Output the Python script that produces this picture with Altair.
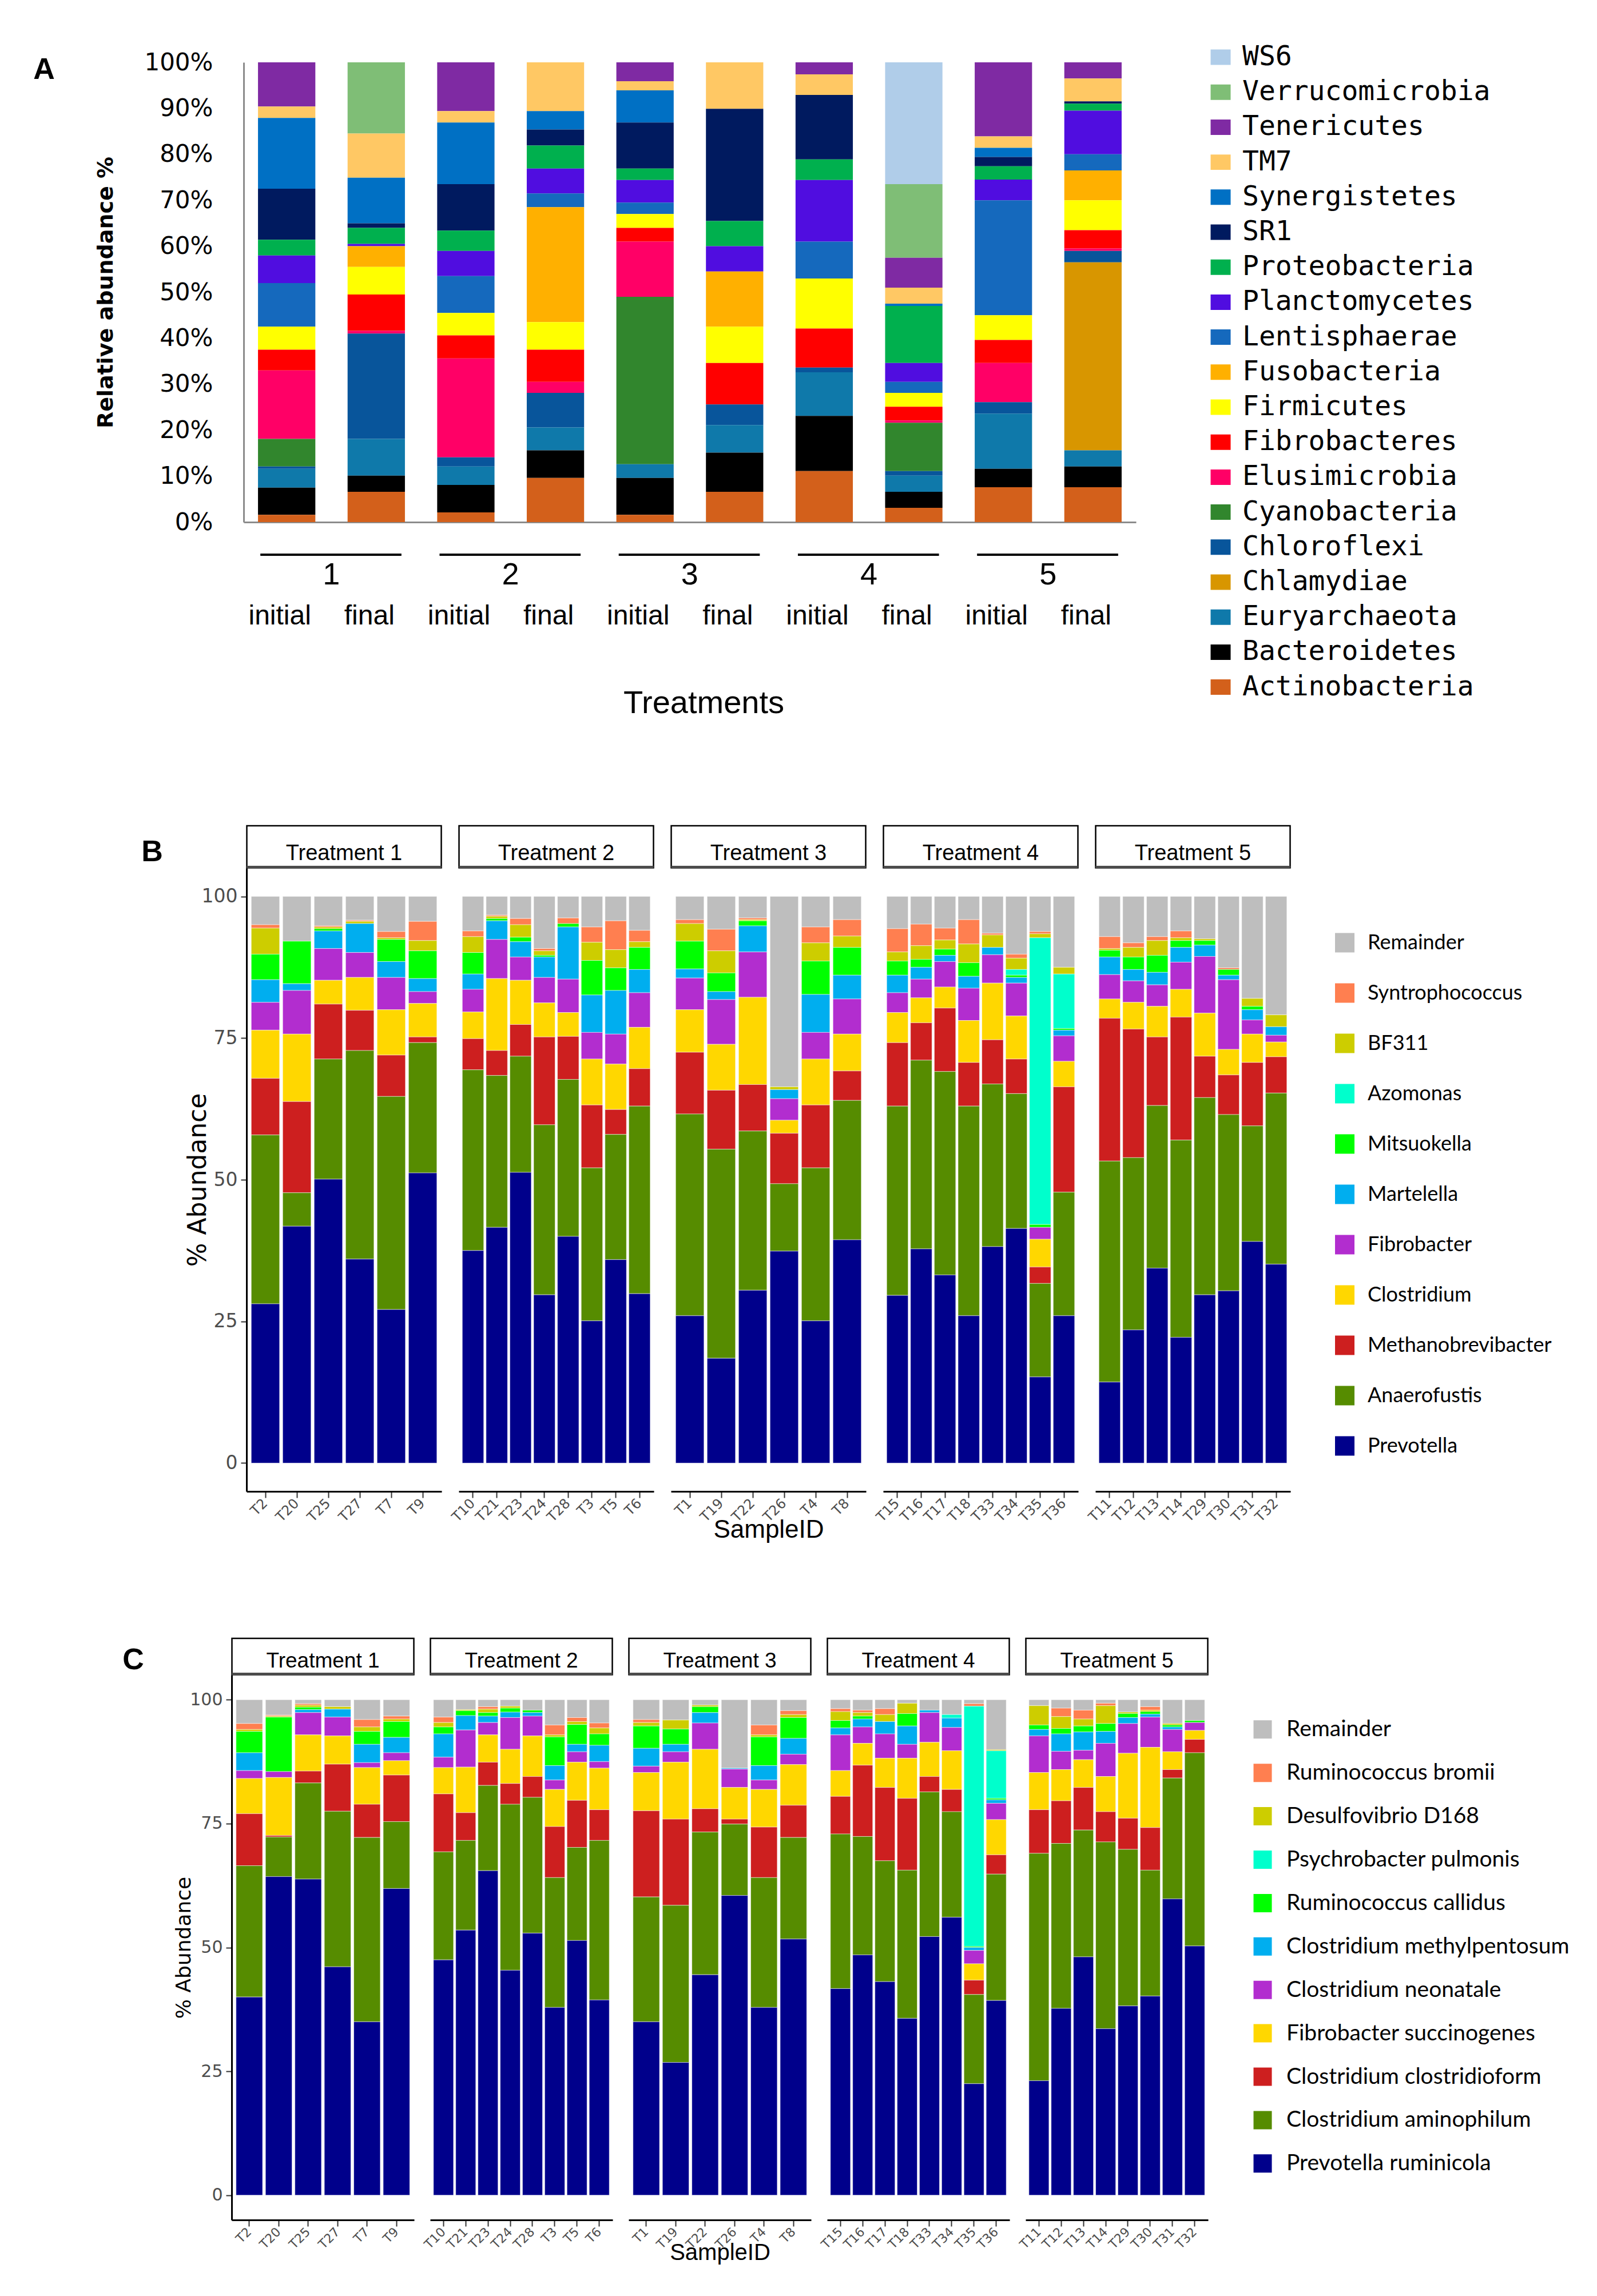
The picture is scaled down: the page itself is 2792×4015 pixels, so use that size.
import altair as alt
import pandas as pd

FONT = "Liberation Sans"

# ======================= Panel A data =======================
A_bars = ["1_initial", "1_final", "2_initial", "2_final", "3_initial", "3_final",
          "4_initial", "4_final", "5_initial", "5_final"]
A_treatments = ["1", "2", "3", "4", "5"]
A_phyla = ["WS6", "Verrucomicrobia", "Tenericutes", "TM7", "Synergistetes", "SR1",
           "Proteobacteria", "Planctomycetes", "Lentisphaerae", "Fusobacteria",
           "Firmicutes", "Fibrobacteres", "Elusimicrobia", "Cyanobacteria",
           "Chloroflexi", "Chlamydiae", "Euryarchaeota", "Bacteroidetes", "Actinobacteria"]
A_colors = ["#B0CDE9", "#7FBE76", "#7F2AA3", "#FFC864", "#0070C4", "#001A5F",
            "#00B04E", "#500DE0", "#1569BD", "#FFB000", "#FFFF00", "#FF0000",
            "#FF0066", "#31862D", "#08559B", "#D89600", "#0F79AA", "#000000", "#D3601B"]

WS6 = [0, 0, 0, 0, 0, 0, 0, 26.5, 0, 0]
Verrucomicrobia = [0, 15.5, 0, 0, 0, 0, 0, 16.0, 0, 0]
Tenericutes = [9.6, 0, 10.6, 0, 4.1, 0, 2.6, 6.5, 16.1, 3.5]
TM7 = [2.5, 9.6, 2.5, 10.6, 2.0, 10.1, 4.5, 3.5, 2.5, 5.0]
Synergistetes = [15.4, 9.9, 13.4, 4.0, 7.0, 0, 0, 0.5, 2.0, 0]
SR1 = [11.1, 1.0, 10.1, 3.5, 10.0, 24.4, 14.0, 0, 2.0, 0.5]
Proteobacteria = [3.4, 3.5, 4.4, 5.0, 2.5, 5.5, 4.5, 12.4, 2.9, 1.5]
Planctomycetes = [6.0, 0.5, 5.5, 5.4, 4.9, 5.5, 13.4, 4.1, 4.5, 9.5]
Lentisphaerae = [9.5, 0, 8.0, 3.0, 2.5, 0, 8.0, 2.4, 25.0, 3.5]
Fusobacteria = [0, 4.5, 0, 25.0, 0, 12.0, 0, 0, 0, 6.5]
Firmicutes = [5.0, 6.0, 4.9, 6.0, 3.0, 7.9, 10.9, 3.0, 5.4, 6.5]
Fibrobacteres = [4.5, 7.9, 5.0, 7.0, 3.0, 9.0, 8.5, 3.0, 5.0, 4.0]
Elusimicrobia = [14.9, 0.6, 21.5, 2.4, 12.0, 0, 0, 0.5, 8.5, 0.5]
Cyanobacteria = [6.0, 0, 0, 0, 36.4, 0, 0, 10.5, 0, 0]
Chloroflexi = [0.5, 22.9, 2.0, 7.5, 0, 4.5, 1.0, 1.0, 2.5, 2.5]
Chlamydiae = [0, 0, 0, 0, 0, 0, 0, 0, 0, 40.9]
Euryarchaeota = [4.1, 8.0, 4.0, 5.0, 3.0, 6.0, 9.5, 3.5, 12.0, 3.5]
Bacteroidetes = [5.9, 3.5, 6.0, 6.0, 8.0, 8.5, 12.0, 3.5, 4.0, 4.5]
Actinobacteria = [1.6, 6.6, 2.1, 9.6, 1.6, 6.6, 11.1, 3.1, 7.6, 7.6]

A_series = [WS6, Verrucomicrobia, Tenericutes, TM7, Synergistetes, SR1, Proteobacteria,
            Planctomycetes, Lentisphaerae, Fusobacteria, Firmicutes, Fibrobacteres,
            Elusimicrobia, Cyanobacteria, Chloroflexi, Chlamydiae, Euryarchaeota,
            Bacteroidetes, Actinobacteria]

# ======================= Panels B / C shared =======================
groups = ["Treatment 1", "Treatment 2", "Treatment 3", "Treatment 4", "Treatment 5"]
samples_t1 = ["T2", "T20", "T25", "T27", "T7", "T9"]
samples_t2 = ["T10", "T21", "T23", "T24", "T28", "T3", "T5", "T6"]
samples_t3 = ["T1", "T19", "T22", "T26", "T4", "T8"]
samples_t4 = ["T15", "T16", "T17", "T18", "T33", "T34", "T35", "T36"]
samples_t5 = ["T11", "T12", "T13", "T14", "T29", "T30", "T31", "T32"]
group_samples = [samples_t1, samples_t2, samples_t3, samples_t4, samples_t5]
BC_colors = ["#BEBEBE", "#FF7F50", "#CDCD00", "#00FFCC", "#00FF00", "#00AEEF",
             "#B22DCF", "#FFD700", "#CD1F1F", "#568C00", "#00008B"]

# ======================= Panel B data (genus) =======================
B_genera = ["Remainder", "Syntrophococcus", "BF311", "Azomonas", "Mitsuokella",
            "Martelella", "Fibrobacter", "Clostridium", "Methanobrevibacter",
            "Anaerofustis", "Prevotella"]
B_remainder = [5.0, 7.9, 5.2, 4.2, 6.2, 4.4,
               6.1, 3.3, 3.9, 9.2, 3.8, 5.4, 4.3, 6.0,
               4.1, 5.8, 3.8, 33.6, 5.4, 4.1,
               5.7, 4.9, 5.6, 4.1, 6.5, 10.2, 6.2, 12.5,
               7.1, 8.2, 7.1, 6.1, 7.5, 12.6, 18.0, 20.9]
B_syntrophococcus = [0.6, 0, 0.2, 0.2, 1.1, 3.4,
                     1.0, 0.2, 1.1, 0.4, 1.0, 2.7, 5.1, 2.0,
                     0.7, 3.8, 0.3, 0, 2.8, 2.9,
                     4.1, 3.8, 2.1, 4.3, 0.3, 0.7, 0.4, 0,
                     2.1, 0.8, 0.7, 1.2, 0, 0.3, 0, 0]
B_bf311 = [4.6, 0, 0.3, 0.4, 0.3, 1.8,
           2.8, 0.4, 2.2, 0.8, 0, 3.2, 3.2, 1.0,
           3.1, 3.9, 0.2, 0.5, 3.2, 2.0,
           1.6, 2.4, 1.6, 3.3, 2.2, 2.0, 0.7, 1.2,
           0.3, 1.7, 2.6, 0.5, 0.3, 0, 1.4, 2.1]
B_azomonas = [0, 0, 0, 0, 0, 0,
              0, 0, 0, 0, 0, 0, 0, 0,
              0, 0, 0, 0, 0, 0,
              0, 0, 0, 0, 0, 1.0, 50.6, 9.6,
              0, 0, 0, 0, 0, 0, 0, 0]
B_mitsuokella = [4.5, 7.5, 0.4, 0, 3.9, 4.9,
                 3.8, 0.4, 0.8, 0.3, 0.6, 6.1, 4.0, 3.9,
                 4.9, 3.3, 0.9, 0, 5.9, 4.9,
                 2.5, 1.4, 1.1, 2.4, 0, 0.4, 0.5, 0.3,
                 1.2, 2.2, 3.0, 1.2, 0.8, 1.0, 0.6, 0]
B_martelella = [4.0, 1.2, 3.1, 5.1, 2.8, 2.3,
                2.7, 3.3, 2.7, 3.6, 9.2, 6.6, 7.7, 4.1,
                1.6, 1.4, 4.6, 1.6, 6.7, 4.2,
                3.1, 2.1, 1.1, 2.1, 1.3, 1.0, 0, 1.0,
                3.1, 2.0, 2.2, 2.6, 2.0, 0.8, 1.8, 1.5]
B_fibrobacter = [4.9, 7.7, 5.6, 4.4, 5.7, 2.1,
                 4.0, 6.9, 4.1, 4.5, 5.9, 4.7, 5.3, 6.1,
                 5.6, 7.9, 8.0, 3.8, 4.7, 6.2,
                 3.5, 3.3, 4.5, 5.7, 5.0, 5.8, 2.1, 4.5,
                 4.3, 3.8, 3.8, 4.8, 10.0, 12.3, 2.5, 1.2]
B_clostridium = [8.5, 11.9, 4.2, 5.8, 8.0, 5.9,
                 4.7, 12.7, 7.8, 6.0, 4.2, 8.1, 8.0, 7.3,
                 7.5, 8.1, 15.4, 2.3, 8.1, 6.5,
                 5.3, 4.4, 3.7, 7.4, 10.0, 7.6, 4.9, 4.5,
                 3.4, 4.7, 5.4, 4.9, 7.6, 4.5, 5.0, 2.6]
B_methanobrevibacter = [10.0, 16.1, 9.7, 7.1, 7.3, 1.0,
                        5.5, 4.4, 5.6, 15.5, 7.6, 11.1, 4.4, 6.6,
                        10.9, 10.4, 8.2, 8.9, 11.1, 5.2,
                        11.2, 6.6, 11.2, 7.7, 7.8, 6.1, 2.9, 18.6,
                        25.2, 22.7, 12.1, 21.7, 7.3, 7.0, 11.2, 6.4]
B_anaerofustis = [29.8, 5.9, 21.2, 36.8, 37.6, 23.0,
                  31.9, 26.8, 20.5, 30.0, 27.7, 27.0, 22.1, 33.1,
                  35.6, 36.9, 28.1, 11.9, 27.0, 24.6,
                  33.4, 33.3, 35.9, 37.0, 28.7, 23.8, 16.5, 21.8,
                  39.0, 30.4, 28.7, 34.8, 34.8, 31.1, 20.4, 30.2]
B_prevotella = [28.1, 41.8, 50.1, 36.0, 27.1, 51.2,
                37.5, 41.6, 51.3, 29.7, 40.0, 25.1, 35.9, 29.9,
                26.0, 18.5, 30.5, 37.4, 25.1, 39.4,
                29.6, 37.8, 33.2, 26.0, 38.2, 41.4, 15.2, 26.0,
                14.3, 23.5, 34.4, 22.2, 29.7, 30.4, 39.1, 35.1]
B_series = [B_remainder, B_syntrophococcus, B_bf311, B_azomonas, B_mitsuokella,
            B_martelella, B_fibrobacter, B_clostridium, B_methanobrevibacter,
            B_anaerofustis, B_prevotella]

# ======================= Panel C data (species) =======================
C_species = ["Remainder", "Ruminococcus bromii", "Desulfovibrio D168",
             "Psychrobacter pulmonis", "Ruminococcus callidus",
             "Clostridium methylpentosum", "Clostridium neonatale",
             "Fibrobacter succinogenes", "Clostridium clostridioform",
             "Clostridium aminophilum", "Prevotella ruminicola"]
C_remainder = [4.8, 3.1, 0.8, 1.4, 4.0, 3.3,
               3.5, 2.0, 1.4, 1.3, 2.1, 5.1, 3.6, 4.7,
               4.0, 4.1, 1.1, 13.8, 5.1, 2.2,
               1.8, 2.1, 1.8, 0.7, 2.1, 3.0, 0.8, 10.1,
               1.2, 1.7, 2.1, 0.7, 2.5, 1.4, 4.8, 4.2]
C_r_bromii = [1.2, 0.2, 0.3, 0, 1.5, 0.6,
              1.1, 0, 0.5, 0, 0, 2.0, 0.8, 1.0,
              0.6, 0, 0, 0, 2.0, 0.8,
              0.6, 0.5, 1.2, 0, 0, 0, 0.5, 0,
              0, 1.7, 1.8, 0.5, 0, 0.7, 0, 0]
C_desulfovibrio = [0.4, 0.2, 0.4, 0.5, 0.9, 0.5,
                   0.9, 0.2, 0.7, 0.4, 0, 0.4, 0.6, 1.2,
                   0.7, 1.8, 0.3, 0, 0.4, 0.6,
                   1.8, 0.7, 1.4, 2.1, 0, 0, 0, 0.2,
                   3.9, 2.4, 1.4, 3.6, 0.3, 0.3, 0.3, 0]
C_psychrobacter = [0, 0, 0, 0, 0, 0,
                   0, 0, 0, 0, 0, 0, 0, 0,
                   0, 0, 0, 0, 0, 0,
                   0, 0, 0, 0, 0, 0.7, 48.5, 9.6,
                   0, 0, 0, 0, 0, 0, 0, 0]
C_r_callidus = [4.3, 11.0, 0.5, 0, 2.6, 3.2,
                1.4, 1.0, 0.7, 0.8, 0.5, 5.8, 4.0, 2.3,
                4.5, 3.1, 1.2, 0, 5.8, 4.2,
                1.5, 0.6, 0, 2.5, 0, 0, 0.2, 0.3,
                0.9, 1.1, 1.2, 1.6, 0.8, 0.5, 0.4, 0.4]
C_c_methylpentosum = [3.6, 0, 0.6, 1.6, 3.7, 3.1,
                      4.7, 2.9, 1.3, 1.1, 0.7, 2.9, 1.5, 3.3,
                      3.6, 1.5, 2.1, 0.2, 2.9, 3.2,
                      1.4, 1.6, 2.5, 3.7, 0.5, 1.9, 0.6, 0.7,
                      1.3, 3.5, 3.7, 2.4, 1.2, 0.6, 0.5, 0]
C_c_neonatale = [1.6, 1.2, 4.5, 3.8, 1.0, 1.6,
                 2.1, 7.5, 2.5, 6.4, 4.0, 1.9, 2.1, 1.3,
                 1.3, 2.1, 5.3, 3.7, 1.9, 2.1,
                 7.2, 3.3, 4.9, 2.8, 6.0, 4.7, 2.7, 3.3,
                 7.4, 3.7, 1.9, 6.7, 6.0, 6.1, 4.5, 1.6]
C_f_succinogenes = [7.1, 11.7, 7.3, 5.7, 7.4, 2.9,
                    5.3, 9.2, 5.5, 6.9, 8.2, 7.5, 7.7, 8.4,
                    7.7, 11.5, 12.0, 6.4, 7.6, 8.2,
                    5.2, 4.4, 5.9, 8.1, 6.9, 7.8, 3.3, 7.1,
                    7.5, 6.3, 5.6, 7.1, 13.1, 16.2, 3.6, 1.8]
C_c_clostridioform = [10.5, 0.3, 2.4, 9.5, 6.7, 9.4,
                      11.7, 5.6, 4.7, 4.2, 4.2, 10.3, 9.5, 6.2,
                      17.4, 17.4, 4.7, 1.0, 10.2, 6.5,
                      7.6, 14.4, 14.8, 14.5, 3.1, 4.5, 2.9, 3.9,
                      8.8, 8.6, 8.6, 6.1, 6.3, 8.6, 1.7, 2.7]
C_c_aminophilum = [26.5, 8.0, 19.4, 31.4, 37.2, 13.5,
                   21.8, 18.1, 17.2, 33.5, 27.4, 26.2, 18.8, 32.2,
                   25.2, 31.7, 28.8, 14.4, 26.2, 20.5,
                   31.2, 23.9, 24.4, 29.9, 29.2, 21.3, 18.0, 25.5,
                   45.9, 33.3, 25.6, 37.7, 31.6, 25.4, 24.4, 39.0]
C_p_ruminicola = [40.0, 64.3, 63.8, 46.1, 35.0, 61.9,
                  47.5, 53.5, 65.5, 45.4, 52.9, 37.9, 51.4, 39.4,
                  35.0, 26.8, 44.5, 60.5, 37.9, 51.7,
                  41.7, 48.5, 43.1, 35.7, 52.2, 56.1, 22.5, 39.3,
                  23.1, 37.7, 48.1, 33.6, 38.2, 40.2, 59.8, 50.3]
C_series = [C_remainder, C_r_bromii, C_desulfovibrio, C_psychrobacter, C_r_callidus,
            C_c_methylpentosum, C_c_neonatale, C_f_succinogenes, C_c_clostridioform,
            C_c_aminophilum, C_p_ruminicola]

K = 300  # common row origin offset used to place each row's plot area


def spacer(w):
    return alt.Chart(pd.DataFrame({"s": [0]})).mark_rule(strokeOpacity=0).encode(
        x=alt.value(1), y=alt.value(1), y2=alt.value(2)).properties(width=w, height=1)


# ======================= Panel A chart =======================
rows = []
for k, (name, vals) in enumerate(zip(A_phyla, A_series)):
    for bar, v in zip(A_bars, vals):
        rows.append({"sample": bar, "taxon": name, "value": v, "stack": len(A_phyla) - 1 - k})
dfA = pd.DataFrame(rows)
dfA_stage = pd.DataFrame({"sample": A_bars, "stage": [b.split("_")[1] for b in A_bars]})
dfA_groups = pd.DataFrame({"sample": [b for b in A_bars if b.endswith("initial")],
                           "sample_end": [b for b in A_bars if b.endswith("final")],
                           "grp": A_treatments})

A_LEFT = 426
A_W, A_H = 1560, 804
barsA = alt.Chart(dfA).transform_filter("datum.value > 0").mark_bar().encode(
    x=alt.X("sample:N",
            scale=alt.Scale(domain=A_bars, paddingInner=0.36, paddingOuter=0.16),
            axis=alt.Axis(labels=False, ticks=False, domainColor="#8c8c8c", domainWidth=3,
                          title="Treatments", titleFont=FONT, titleFontSize=56,
                          titleFontWeight="normal", titleColor="black",
                          titleX=804, titleY=316, titleBaseline="middle")),
    y=alt.Y("value:Q", stack="zero", scale=alt.Scale(domain=[0, 100], nice=False),
            axis=alt.Axis(values=list(range(0, 101, 10)), labelExpr="datum.value + '%'",
                          labelFont="DejaVu Sans", labelFontSize=42, labelColor="black",
                          labelPadding=54, labelFlush=False, labelOverlap=False,
                          ticks=False, grid=False, domainColor="#8c8c8c", domainWidth=3,
                          title="Relative abundance %", titleFont="DejaVu Sans",
                          titleFontSize=38, titleFontWeight="bold", titleColor="black",
                          titlePadding=47)),
    color=alt.Color("taxon:N", scale=alt.Scale(domain=A_phyla, range=A_colors),
                    legend=alt.Legend(orient="none", legendX=1684, legendY=-33,
                                      direction="vertical", title=None, padding=0,
                                      symbolType="M-1,-0.77L1,-0.77L1,0.77L-1,0.77Z",
                                      symbolSize=1225, symbolStrokeWidth=0,
                                      labelFont="DejaVu Sans Mono, monospace",
                                      labelFontSize=48, labelColor="black",
                                      labelOffset=14, labelLimit=2000, rowPadding=13.2)),
    order=alt.Order("stack:Q", sort="ascending"),
)
rulesA = alt.Chart(dfA_groups).mark_rule(color="black", strokeWidth=4,
                                         xOffset=-46, x2Offset=44).encode(
    x=alt.X("sample:N"), x2=alt.X2("sample_end"), y=alt.value(861))
numsA = alt.Chart(dfA_groups).mark_text(font=FONT, fontSize=54, dx=78,
                                        baseline="middle", color="black").encode(
    x=alt.X("sample:N"), y=alt.value(897), text="grp:N")
stageA = alt.Chart(dfA_stage).mark_text(font=FONT, fontSize=48, baseline="middle", dx=-12,
                                        color="black").encode(
    x=alt.X("sample:N"), y=alt.value(969), text="stage:N")
letterA = alt.Chart(pd.DataFrame({"letter": ["A"]})).mark_text(
    font=FONT, fontSize=52, fontWeight="bold", color="black", baseline="middle").encode(
    x=alt.value(77 - A_LEFT), y=alt.value(13), text="letter:N")
boundA = alt.Chart(pd.DataFrame({"b": [0]})).mark_rule(strokeOpacity=0, strokeWidth=1).encode(
    x=alt.value(8 - A_LEFT), y=alt.value(-101), y2=alt.value(1291))
chartA = alt.layer(barsA, rulesA, numsA, stageA, letterA, boundA).properties(width=A_W, height=A_H)
rowA = alt.hconcat(spacer(A_LEFT - K), chartA, spacing=0, bounds="flush").resolve_scale(
    color="independent", x="independent", y="independent")


# ======================= Panels B / C builder =======================
def make_row(taxa, series, colors, p):
    rows = []
    all_samples = [s for g in group_samples for s in g]
    group_of = {s: g for g, ss in zip(groups, group_samples) for s in ss}
    for k, (name, vals) in enumerate(zip(taxa, series)):
        for s, v in zip(all_samples, vals):
            rows.append({"sample": s, "group": group_of[s], "taxon": name, "value": v,
                         "stack": len(taxa) - 1 - k})
    df = pd.DataFrame(rows)
    W, H, LEFT = p["W"], p["H"], p["LEFT"]
    panels = [spacer(LEFT - K - p["SP"])]
    for gi, (g, ss) in enumerate(zip(groups, group_samples)):
        sub = df[df["group"] == g]
        first, mid, last = gi == 0, gi == 2, gi == len(groups) - 1
        xaxis_kw = dict(labelAngle=315, labelAlign="right", labelBaseline="middle",
                        labelFont="DejaVu Sans", labelFontSize=p["xlab"], labelColor="#4d4d4d",
                        labelPadding=6, labelOverlap=False, tickSize=11, tickWidth=2,
                        tickColor="#333333", domainColor="black", domainWidth=3, grid=False)
        if mid:
            xaxis_kw.update(title="SampleID", titleFont=FONT, titleFontSize=p["xtitle"],
                            titleFontWeight="normal", titleColor="black",
                            titleY=p["xtitleY"], titleBaseline="middle")
        else:
            xaxis_kw.update(title=None)
        if first:
            yaxis = alt.Axis(values=[0, 25, 50, 75, 100], labelFont="DejaVu Sans",
                             labelFontSize=p["ylab"], labelColor="#4d4d4d", labelPadding=6,
                             tickSize=10, tickWidth=2, tickColor="#333333",
                             domainColor="black", domainWidth=3, grid=False,
                             title="% Abundance", titleFont="DejaVu Sans",
                             titleFontSize=p["ytitle"], titleFontWeight="normal",
                             titleColor="black", titleAngle=270, titleX=p["ytitleX"],
                             titleY=H / 2, titleBaseline="middle", titleAlign="center")
        else:
            yaxis = None
        if last:
            legend = alt.Legend(orient="none", legendX=p["legX"], legendY=p["legY"],
                                direction="vertical", title=None, padding=0,
                                symbolType="square", symbolSize=p["sym"] ** 2,
                                symbolStrokeWidth=0, labelFont="Lato",
                                labelFontSize=p["legfont"], labelColor="black",
                                labelOffset=p["legoff"], labelLimit=2000,
                                rowPadding=p["rowpad"])
        else:
            legend = None
        bars = alt.Chart(sub).transform_filter("datum.value > 0").mark_bar(
            stroke="white", strokeWidth=1, strokeOpacity=0.55).encode(
            x=alt.X("sample:N", scale=alt.Scale(domain=ss, paddingInner=0.1, paddingOuter=0.15),
                    axis=alt.Axis(**xaxis_kw)),
            y=alt.Y("value:Q", stack="zero",
                    scale=alt.Scale(domain=[-5, 105], nice=False, zero=False), axis=yaxis),
            color=alt.Color("taxon:N", scale=alt.Scale(domain=taxa, range=colors), legend=legend),
            order=alt.Order("stack:Q", sort="ascending"),
        )
        lab = pd.DataFrame({"label": [g]})
        strip = alt.Chart(lab).mark_rect(fill="white", stroke="black", strokeWidth=2.5).encode(
            x=alt.value(0.5), x2=alt.value(W - 0.5), y=alt.value(-p["SH"]), y2=alt.value(-0.5))
        strip_line = alt.Chart(lab).mark_rule(color="#4d4d4d", strokeWidth=4).encode(
            x=alt.value(0.5), x2=alt.value(W - 0.5), y=alt.value(-2))
        strip_text = alt.Chart(lab).mark_text(font=FONT, fontSize=p["stripfont"], color="black",
                                              baseline="alphabetic", align="center").encode(
            x=alt.value(W / 2), y=alt.value(p["stripY"]), text="label:N")
        layers = [strip, strip_line, strip_text, bars]
        if first:
            letter = alt.Chart(pd.DataFrame({"letter": [p["letter"]]})).mark_text(
                font=FONT, fontSize=52, fontWeight="bold", color="black", baseline="middle").encode(
                x=alt.value(p["letAbsX"] - LEFT), y=alt.value(p["letY"]), text="letter:N")
            bound = alt.Chart(pd.DataFrame({"b": [0]})).mark_rule(
                strokeOpacity=0, strokeWidth=1).encode(
                x=alt.value(8 - LEFT), y=alt.value(p["bY1"]), y2=alt.value(p["bY2"]))
            layers += [letter, bound]
        panels.append(alt.layer(*layers).properties(width=W, height=H))
    return alt.hconcat(*panels, spacing=p["SP"], bounds="flush").resolve_scale(
        color="independent", x="independent", y="independent")


pB = dict(LEFT=431, W=341, H=1090, SP=30, SH=74, stripY=-14.5, stripfont=38,
          xlab=24, xtitle=44, xtitleY=67.5, ylab=33, ytitle=44, ytitleX=-85,
          legX=418, legY=112.5, sym=34, legfont=36, legoff=22, rowpad=52,
          letter="B", letAbsX=266, letY=-28.5, bY1=-117.5, bY2=1262.5)
pC = dict(LEFT=405, W=319, H=953, SP=28, SH=64, stripY=-13, stripfont=37,
          xlab=22, xtitle=40, xtitleY=57, ylab=30, ytitle=36, ytitleX=-84,
          legX=395, legY=75.8, sym=32, legfont=39, legoff=22, rowpad=35.9,
          letter="C", letAbsX=233, letY=-25.7, bY1=-147.7, bY2=1079.3)

rowB = make_row(B_genera, B_series, BC_colors, pB)
rowC = make_row(C_species, C_series, BC_colors, pC)

chart = alt.vconcat(rowA, rowB, rowC, spacing=0).resolve_scale(
    color="independent", x="independent", y="independent"
).properties(padding=0).configure(font=FONT).configure_view(stroke=None, strokeWidth=0)

chart.save("out.html", embed_options={"renderer": "svg", "actions": False})
